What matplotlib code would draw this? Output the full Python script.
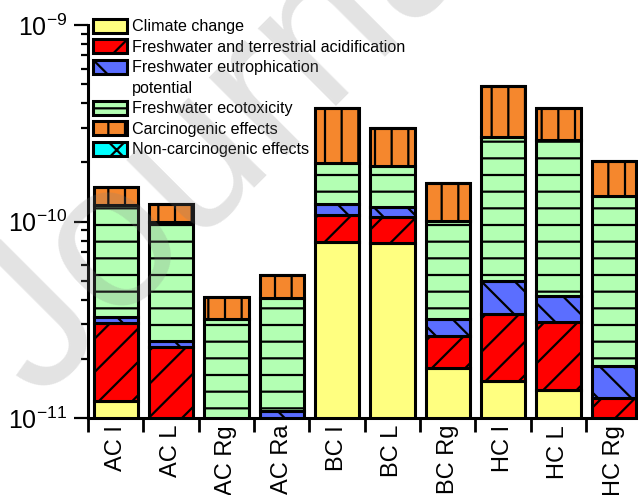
import numpy as np
import matplotlib
matplotlib.use("Agg")
from matplotlib import pyplot as plt
import matplotlib.patches as mpatches
from matplotlib.ticker import NullFormatter, FixedLocator, LogLocator

plt.rcParams['font.family'] = ['Liberation Sans', 'DejaVu Sans']
plt.rcParams['hatch.linewidth'] = 1.6
plt.rcParams['hatch.color'] = 'black'

scenarios = ['AC I', 'AC L', 'AC Rg', 'AC Ra', 'BC I', 'BC L', 'BC Rg', 'HC I', 'HC L', 'HC Rg']

# impact per category, stacked from the bottom up
climate = [1.22e-11, 0.80e-11, 0.30e-11, 0.30e-11, 7.89e-11, 7.74e-11, 1.79e-11, 1.54e-11, 1.39e-11, 0.70e-11]
acidification = [1.83e-11, 1.51e-11, 0.30e-11, 0.40e-11, 2.90e-11, 2.84e-11, 0.83e-11, 1.84e-11, 1.68e-11, 0.57e-11]
eutrophication = [0.23e-11, 0.16e-11, 0.20e-11, 0.39e-11, 1.48e-11, 1.31e-11, 0.57e-11, 1.60e-11, 1.11e-11, 0.57e-11]
ecotoxicity = [8.85e-11, 7.51e-11, 2.38e-11, 3.01e-11, 7.51e-11, 7.27e-11, 6.87e-11, 21.85e-11, 21.82e-11, 11.65e-11]
carcinogenic = [2.90e-11, 2.29e-11, 0.96e-11, 1.24e-11, 17.89e-11, 10.64e-11, 5.58e-11, 22.11e-11, 11.67e-11, 6.89e-11]
non_carcinogenic = [0.02e-11, 0.02e-11, 0.01e-11, 0.01e-11, 0.05e-11, 0.04e-11, 0.03e-11, 0.05e-11, 0.04e-11, 0.03e-11]

series = [
    ('Climate change', climate, '#FFFF80', ''),
    ('Freshwater and terrestrial acidification', acidification, '#FF0000', '/'),
    ('Freshwater eutrophication', eutrophication, '#5B6EFF', '\\'),
    ('Freshwater ecotoxicity', ecotoxicity, '#B3FFB3', '-'),
    ('Carcinogenic effects', carcinogenic, '#F5872D', '|'),
    ('Non-carcinogenic effects', non_carcinogenic, '#00FFFF', 'x'),
]

fig = plt.figure(figsize=(6.38, 4.95), dpi=100)
ax = fig.add_axes([88 / 638, 77 / 495, 553.5 / 638, 393 / 495])

x = np.arange(len(scenarios))
bottom = np.zeros(len(scenarios))
bars = []
for name, vals, color, hatch in series:
    vals = np.array(vals)
    b = ax.bar(x, vals, width=0.8, bottom=bottom, color=color, edgecolor='black',
               linewidth=2.2, hatch=hatch, label=name)
    bars.append(b)
    bottom = bottom + vals

ax.set_yscale('log')
ax.set_ylim(1e-11, 1e-9)
ax.set_xlim(-0.5, len(scenarios) - 0.5)

for side in ['top', 'right']:
    ax.spines[side].set_visible(False)
for side in ['left', 'bottom']:
    ax.spines[side].set_linewidth(2.2)

ax.yaxis.set_major_locator(LogLocator(base=10, numticks=5))
ax.yaxis.set_minor_locator(LogLocator(base=10, subs=np.arange(2, 10), numticks=20))
ax.yaxis.set_minor_formatter(NullFormatter())
ax.tick_params(axis='y', which='major', direction='out', length=10, width=1.6, labelsize=18, pad=5)
ax.tick_params(axis='y', which='minor', direction='out', length=5, width=1.6)

# labels sit under the bars, ticks mark the gaps between them
ax.set_xticks(x)
ax.set_xticklabels(scenarios, rotation=90)
ax.xaxis.set_minor_locator(FixedLocator(np.arange(len(scenarios) + 1) - 0.5))
ax.tick_params(axis='x', which='major', length=0, labelsize=17, pad=5)
ax.tick_params(axis='x', which='minor', direction='out', length=10, width=2)

handles = [b.patches[0] for b in bars]
labels = [s[0] for s in series]
blank = mpatches.Patch(facecolor='none', edgecolor='none')
handles.insert(3, blank)
labels.insert(3, 'potential')
ax.legend(handles, labels, loc='upper left', bbox_to_anchor=(93.5 / 638, 1 - 19 / 495),
          bbox_transform=fig.transFigure, frameon=False, fontsize=11.6,
          handlelength=2.05, handleheight=0.95, handletextpad=0.35,
          labelspacing=0.31, borderpad=0, borderaxespad=0)

fig.text(40 / 638, 1 - 403 / 495, 'Journal Pre-proof', rotation=45, rotation_mode='anchor',
         ha='left', va='baseline', fontsize=150, color='#808080', alpha=0.22, zorder=10)

fig.savefig('out.png', dpi=100)
